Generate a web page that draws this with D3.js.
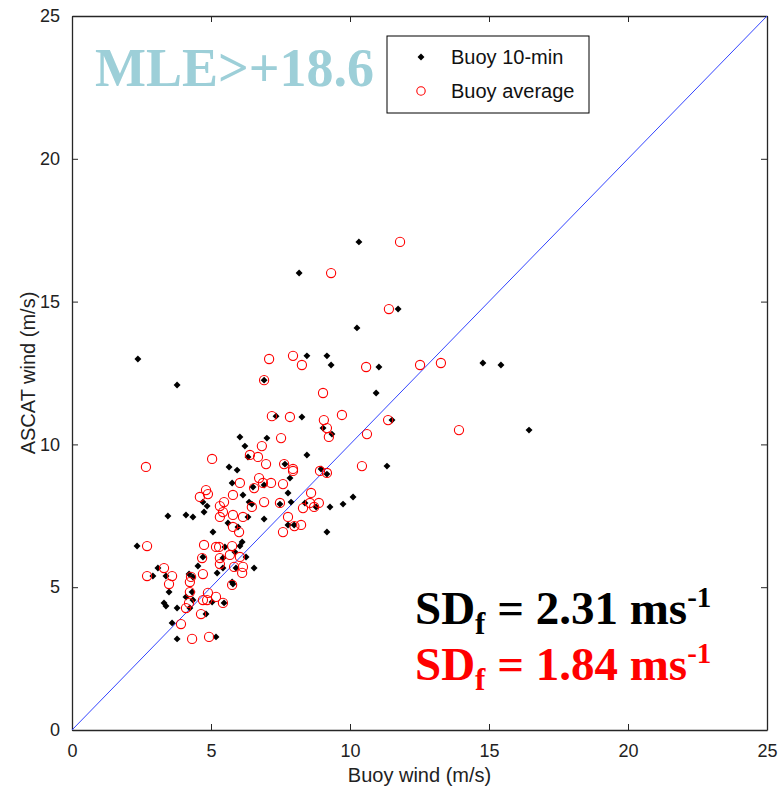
<!DOCTYPE html>
<html>
<head>
<meta charset="utf-8">
<script src="https://cdn.jsdelivr.net/npm/d3@7"></script>
<style>
  body { margin: 0; background: #fff; }
  .tick text { font-family: "Liberation Sans", Arial, sans-serif; font-size: 18px; fill: #222; }
</style>
</head>
<body>
<div id="chart"></div>
<script>
// buoy 10-min values [buoy wind, ascat wind]
const buoy10min = [
  [10.32, 17.09], [8.17, 16.00], [11.73, 14.74], [10.25, 14.08], [2.37, 12.99], [3.78, 12.08],
  [8.45, 13.10], [9.17, 13.10], [9.32, 12.78], [11.04, 12.71], [10.94, 11.80], [8.27, 10.96],
  [11.51, 10.85], [14.78, 12.85], [15.43, 12.78], [16.44, 10.50], [6.91, 12.25], [7.34, 10.99],
  [9.03, 10.57], [9.35, 10.36], [7.01, 10.22], [8.45, 9.63], [7.66, 9.31], [8.96, 9.14],
  [11.33, 9.24], [6.04, 10.26], [6.22, 9.94], [6.33, 9.56], [5.65, 9.21], [5.94, 9.10],
  [7.84, 8.82], [5.76, 8.65], [6.91, 8.58], [7.77, 8.30], [6.15, 8.23], [7.88, 7.98],
  [4.71, 7.98], [4.86, 7.84], [6.37, 7.98], [4.75, 7.63], [3.45, 7.49], [4.10, 7.53],
  [4.35, 7.46], [8.38, 7.95], [9.28, 7.81], [9.75, 7.91], [10.11, 8.16], [9.17, 6.93],
  [5.61, 7.25], [5.07, 6.93], [5.97, 7.11], [6.91, 7.39], [6.33, 7.46], [7.77, 7.18],
  [7.99, 7.18], [6.12, 6.58], [6.04, 6.44], [5.50, 6.41], [5.86, 6.23], [6.26, 6.06],
  [6.55, 5.67], [5.90, 5.67], [5.43, 5.67], [5.43, 6.02], [2.34, 6.44], [3.09, 5.67],
  [2.91, 5.39], [3.38, 5.39], [4.21, 5.46], [4.35, 5.36], [3.49, 4.83], [4.71, 6.06],
  [4.53, 5.74], [5.22, 5.50], [5.76, 5.18], [5.79, 5.11], [4.32, 4.83], [4.10, 4.66],
  [3.31, 4.45], [3.38, 4.34], [3.78, 4.27], [4.35, 4.55], [5.04, 4.48], [5.47, 4.45],
  [4.82, 4.06], [4.24, 4.27], [3.60, 3.75], [3.78, 3.19], [5.18, 3.26], [7.48, 7.91],
  [8.78, 7.81], [9.17, 8.96], [6.51, 8.51], [6.47, 7.91]
];

// buoy average values [buoy wind, ascat wind]
const buoyAverage = [
  [11.80, 17.09], [9.32, 16.00], [11.40, 14.74], [7.09, 12.99], [7.95, 13.10], [8.27, 12.78],
  [10.58, 12.71], [12.52, 12.78], [13.27, 12.85], [6.91, 12.25], [9.03, 11.80], [7.19, 10.99],
  [7.84, 10.96], [9.71, 11.03], [9.06, 10.85], [9.17, 10.57], [9.24, 10.26], [11.37, 10.85],
  [10.61, 10.36], [13.92, 10.50], [7.52, 10.22], [6.83, 9.94], [6.69, 9.56], [6.40, 9.63],
  [6.98, 9.31], [7.63, 9.31], [7.95, 9.14], [10.43, 9.24], [5.04, 9.49], [2.66, 9.21],
  [6.73, 8.82], [6.87, 8.65], [7.16, 8.65], [7.59, 8.61], [8.60, 8.30], [7.95, 9.07],
  [6.55, 8.47], [6.04, 8.65], [5.79, 8.23], [4.82, 8.40], [4.89, 8.26], [4.60, 8.16],
  [5.47, 7.98], [5.32, 7.84], [5.43, 7.63], [5.32, 7.46], [5.79, 7.53], [6.15, 7.46],
  [6.47, 7.81], [6.91, 7.98], [7.48, 7.95], [7.77, 7.46], [7.59, 6.93], [8.24, 7.18],
  [8.31, 7.77], [8.88, 7.95], [8.56, 7.95], [9.17, 9.00], [8.92, 9.07], [5.79, 7.11],
  [6.01, 6.93], [4.75, 6.48], [5.18, 6.41], [5.29, 6.41], [5.76, 6.44], [5.68, 6.13],
  [6.04, 6.06], [5.32, 5.81], [5.83, 5.71], [6.15, 5.71], [6.12, 5.50], [4.68, 6.02],
  [4.71, 5.46], [5.76, 5.08], [3.31, 5.67], [2.70, 5.39], [3.60, 5.39], [3.49, 5.11],
  [4.28, 5.36], [4.24, 5.18], [4.24, 4.83], [4.89, 4.80], [4.86, 4.55], [4.71, 4.55],
  [5.18, 4.66], [5.43, 4.45], [4.10, 4.27], [4.21, 4.45], [4.64, 4.06], [3.92, 3.71],
  [4.32, 3.19], [4.93, 3.26], [2.70, 6.44], [8.00, 7.14], [8.71, 7.81], [5.32, 6.02]
];

const axisTicks = [0, 5, 10, 15, 20, 25];
const legendLabels = ['Buoy 10-min', 'Buoy average'];
const sdValues = ['2.31', '1.84'];

const width = 778, height = 789;
const margin = { left: 72, right: 11, top: 16, bottom: 59 };

const svg = d3.select('#chart')
  .append('svg')
    .attr('width', width)
    .attr('height', height);

const x = d3.scaleLinear().domain([0, 25]).range([margin.left, width - margin.right]);
const y = d3.scaleLinear().domain([0, 25]).range([height - margin.bottom, margin.top]);

// axes with inward ticks, matlab box style
const axisColor = '#262626';
svg.append('g')
  .attr('transform', `translate(0,${y(0)})`)
  .call(d3.axisBottom(x).tickValues(axisTicks).tickSizeInner(-6).tickSizeOuter(0).tickPadding(14))
  .call(g => g.selectAll('line, path').attr('stroke', axisColor));
svg.append('g')
  .attr('transform', `translate(0,${y(25)})`)
  .call(d3.axisTop(x).tickValues(axisTicks).tickSizeInner(-6).tickSizeOuter(0).tickFormat(''))
  .call(g => g.selectAll('line, path').attr('stroke', axisColor));
svg.append('g')
  .attr('transform', `translate(${x(0)},0)`)
  .call(d3.axisLeft(y).tickValues(axisTicks).tickSizeInner(-6).tickSizeOuter(0).tickPadding(12))
  .call(g => g.selectAll('line, path').attr('stroke', axisColor));
svg.append('g')
  .attr('transform', `translate(${x(25)},0)`)
  .call(d3.axisRight(y).tickValues(axisTicks).tickSizeInner(-6).tickSizeOuter(0).tickFormat(''))
  .call(g => g.selectAll('line, path').attr('stroke', axisColor));

svg.selectAll('.domain').attr('stroke-width', 1.3);

// axis titles
svg.append('text')
  .attr('x', (x(0) + x(25)) / 2)
  .attr('y', 782)
  .attr('text-anchor', 'middle')
  .style('font-family', '"Liberation Sans", Arial, sans-serif')
  .style('font-size', '20px')
  .attr('fill', '#222')
  .text('Buoy wind (m/s)');

svg.append('text')
  .attr('transform', `translate(35,${(y(0) + y(25)) / 2}) rotate(-90)`)
  .attr('text-anchor', 'middle')
  .style('font-family', '"Liberation Sans", Arial, sans-serif')
  .style('font-size', '20px')
  .attr('fill', '#222')
  .text('ASCAT wind (m/s)');

// 1:1 line
svg.append('line')
  .attr('x1', x(0)).attr('y1', y(0))
  .attr('x2', x(25)).attr('y2', y(25))
  .attr('stroke', '#3344ff')
  .attr('stroke-width', 1);

const diamond = d3.symbol().type(d3.symbolSquare).size(24);

svg.append('g')
  .selectAll('path')
  .data(buoy10min)
  .join('path')
    .attr('d', diamond)
    .attr('transform', d => `translate(${x(d[0])},${y(d[1])}) rotate(45)`)
    .attr('fill', '#000');

svg.append('g')
  .selectAll('circle')
  .data(buoyAverage)
  .join('circle')
    .attr('cx', d => x(d[0]))
    .attr('cy', d => y(d[1]))
    .attr('r', 4.6)
    .attr('fill', 'none')
    .attr('stroke', '#ff0000')
    .attr('stroke-width', 1.1);

// title
svg.append('text')
  .attr('x', 95)
  .attr('y', 86)
  .style('font-family', '"Liberation Serif", "Times New Roman", serif')
  .style('font-weight', 'bold')
  .style('font-size', '54px')
  .attr('fill', '#9dcfd8')
  .text('MLE>+18.6');

// legend
const legend = svg.append('g');
legend.append('rect')
  .attr('x', 387).attr('y', 36)
  .attr('width', 202).attr('height', 77)
  .attr('fill', '#fff')
  .attr('stroke', '#000')
  .attr('stroke-width', 1);
legend.append('path')
  .attr('d', diamond)
  .attr('transform', 'translate(421,57) rotate(45)')
  .attr('fill', '#000');
legend.append('circle')
  .attr('cx', 421).attr('cy', 91)
  .attr('r', 4.2)
  .attr('fill', 'none')
  .attr('stroke', '#ff0000')
  .attr('stroke-width', 1.1);
legend.selectAll('text')
  .data(legendLabels)
  .join('text')
    .attr('x', 451)
    .attr('y', (d, i) => 64 + i * 34)
    .style('font-family', '"Liberation Sans", Arial, sans-serif')
    .style('font-size', '20px')
    .attr('fill', '#111')
    .text(d => d);

// SD annotations
const sdColors = ['#000', '#ff0000'];
sdValues.forEach((v, i) => {
  const t = svg.append('text')
    .attr('x', 415)
    .attr('y', 624 + i * 56)
    .style('font-family', '"Liberation Serif", "Times New Roman", serif')
    .style('font-weight', 'bold')
    .style('font-size', '47px')
    .attr('fill', sdColors[i]);
  t.append('tspan').text('SD');
  t.append('tspan').attr('dy', 10).style('font-size', '31px').text('f');
  t.append('tspan').attr('dy', -10).text(` = ${v} ms`);
  t.append('tspan').attr('dy', -17).style('font-size', '29px').text('-1');
});
</script>
</body>
</html>
